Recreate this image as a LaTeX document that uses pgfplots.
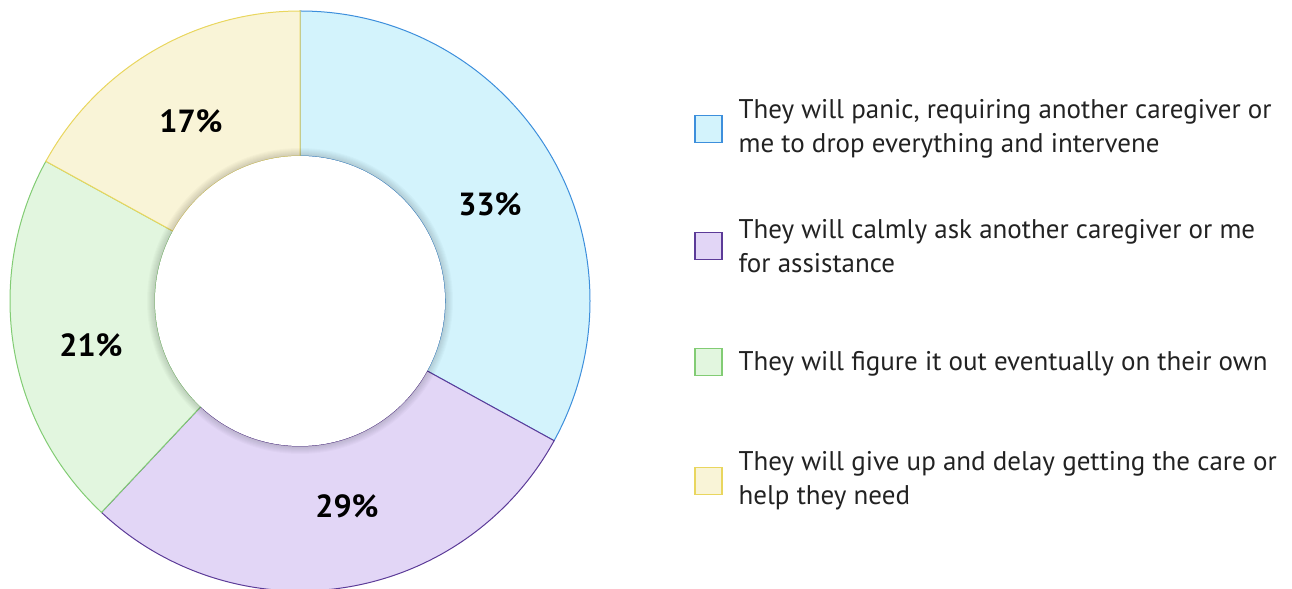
\documentclass[border=0pt]{standalone}
\usepackage{fontspec}
\setmainfont{PT Sans}
\usepackage{pgfplots}
\pgfplotsset{compat=1.18}
\definecolor{blueF}{HTML}{D3F3FC}\definecolor{blueE}{HTML}{3D8FDC}
\definecolor{purpleF}{HTML}{E2D6F6}\definecolor{purpleE}{HTML}{5C3B98}
\definecolor{greenF}{HTML}{E2F6DF}\definecolor{greenE}{HTML}{82CC74}
\definecolor{yellowF}{HTML}{F9F4D7}\definecolor{yellowE}{HTML}{E9D65E}
\definecolor{txt}{HTML}{222222}
% data (percent)
\def\vA{33}\def\vB{29}\def\vC{21}\def\vD{17}
\pgfmathsetmacro\aA{90}
\pgfmathsetmacro\aB{\aA-3.6*\vA}
\pgfmathsetmacro\aC{\aB-3.6*\vB}
\pgfmathsetmacro\aD{\aC-3.6*\vC}
\pgfmathsetmacro\aE{\aD-3.6*\vD}
\def\Ro{145pt}\def\Ri{72.5pt}
\begin{document}
\begin{tikzpicture}
\begin{axis}[
  scale only axis, width=646pt, height=294.5pt,
  xmin=0, xmax=1292, ymin=0, ymax=589,
  hide axis, clip=false,
]
\begin{scope}[shift={(axis cs:300,288)}, line width=0.5pt]
\filldraw[fill=blueF, draw=blueE] (\aA:\Ro) arc[start angle=\aA, end angle=\aB, radius=\Ro] -- (\aB:\Ri) arc[start angle=\aB, end angle=\aA, radius=\Ri] -- cycle;
\filldraw[fill=purpleF, draw=purpleE] (\aB:\Ro) arc[start angle=\aB, end angle=\aC, radius=\Ro] -- (\aC:\Ri) arc[start angle=\aC, end angle=\aB, radius=\Ri] -- cycle;
\filldraw[fill=greenF, draw=greenE] (\aC:\Ro) arc[start angle=\aC, end angle=\aD, radius=\Ro] -- (\aD:\Ri) arc[start angle=\aD, end angle=\aC, radius=\Ri] -- cycle;
\filldraw[fill=yellowF, draw=yellowE] (\aD:\Ro) arc[start angle=\aD, end angle=\aE, radius=\Ro] -- (\aE:\Ri) arc[start angle=\aE, end angle=\aD, radius=\Ri] -- cycle;
\fill[black, opacity=0.018] (0,0) circle[radius=76.5pt];
\fill[black, opacity=0.018] (0,0) circle[radius=76pt];
\fill[black, opacity=0.018] (0,0) circle[radius=75.5pt];
\fill[black, opacity=0.018] (0,0) circle[radius=75pt];
\fill[black, opacity=0.018] (0,0) circle[radius=74.5pt];
\fill[black, opacity=0.018] (0,0) circle[radius=74pt];
\fill[black, opacity=0.018] (0,0) circle[radius=73.5pt];
\fill[black, opacity=0.018] (0,0) circle[radius=73pt];
\fill[white] (0,0) circle[radius=\Ri];
\end{scope}
\begin{scope}[every node/.style={font=\fontsize{16}{18}\selectfont\bfseries, text=black}]
\node at (axis cs:490,385) {\vA\%};
\node at (axis cs:347,83) {\vB\%};
\node at (axis cs:91,244) {\vC\%};
\node at (axis cs:191,468) {\vD\%};
\end{scope}
% legend
\begin{scope}[line width=0.6pt, every node/.style={anchor=west, inner sep=0pt, align=left, text=txt, font=\fontsize{13.5}{17}\selectfont}]
\filldraw[fill=blueF, draw=blueE] (axis cs:695,446.5) rectangle (axis cs:722,473.5);
\node at (axis cs:738,460) {They will panic, requiring another caregiver or\\me to drop everything and intervene};
\filldraw[fill=purpleF, draw=purpleE] (axis cs:695,329.5) rectangle (axis cs:722,356.5);
\node at (axis cs:738,343) {They will calmly ask another caregiver or me\\for assistance};
\filldraw[fill=greenF, draw=greenE] (axis cs:695,213.5) rectangle (axis cs:722,240.5);
\node at (axis cs:738,225) {They will figure it out eventually on their own};
\filldraw[fill=yellowF, draw=yellowE] (axis cs:695,94.5) rectangle (axis cs:722,121.5);
\node at (axis cs:738,108) {They will give up and delay getting the care or\\help they need};
\end{scope}
\end{axis}
\pgfresetboundingbox
\path (0,0) rectangle (646pt,294.5pt);
\end{tikzpicture}
\end{document}
